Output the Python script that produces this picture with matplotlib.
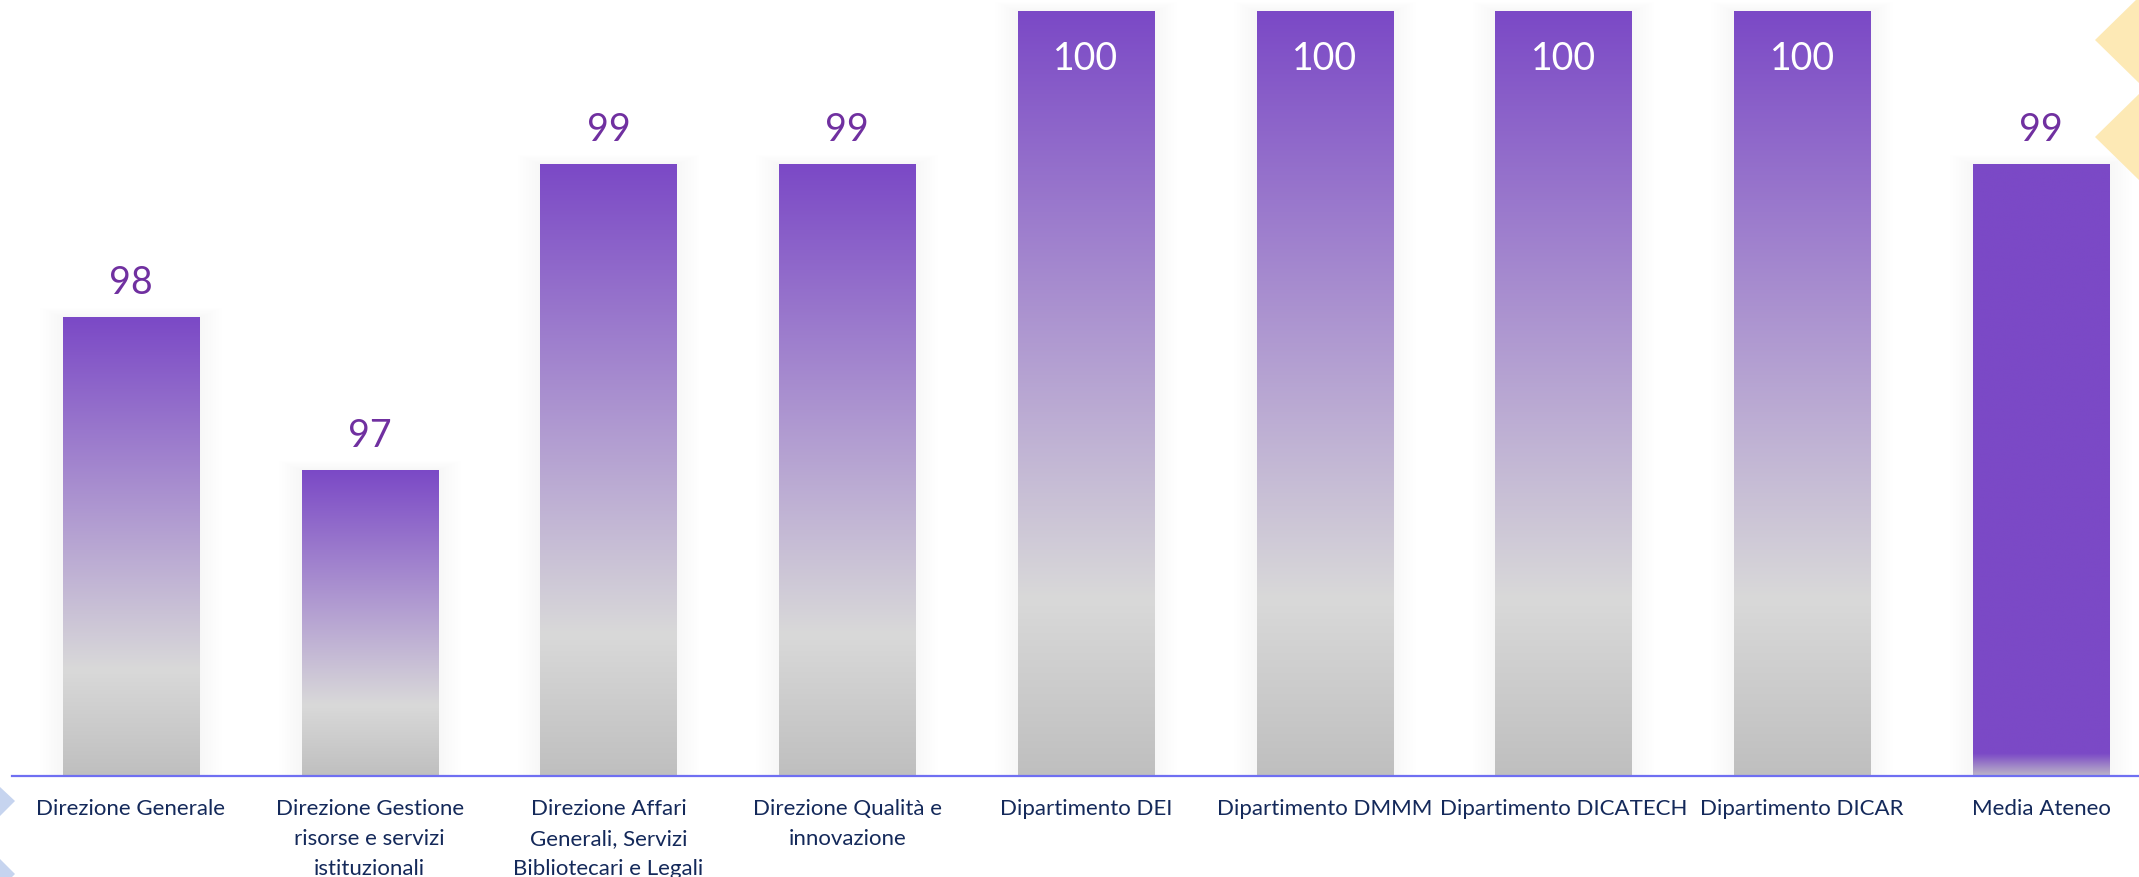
"""
Bar chart: share (%) per struttura, with gradient-filled bars.
"""

import numpy as np
import matplotlib
matplotlib.use("Agg")
import matplotlib.pyplot as plt
from matplotlib.colors import LinearSegmentedColormap
from matplotlib.patches import Polygon, Rectangle

categories = [
    "Direzione Generale",
    "Direzione Gestione\nrisorse e servizi\nistituzionali",
    "Direzione Affari\nGenerali, Servizi\nBibliotecari e Legali",
    "Direzione Qualità e\ninnovazione",
    "Dipartimento DEI",
    "Dipartimento DMMM",
    "Dipartimento DICATECH",
    "Dipartimento DICAR",
    "Media Ateneo",
]
values = [98, 97, 99, 99, 100, 100, 100, 100, 99]

W, H, DPI = 2139, 878, 100
PURPLE = "#7b49c6"
LABEL_PURPLE = "#7030a0"
NAVY = "#14295a"

plt.rcParams["font.family"] = ["Lato", "DejaVu Sans"]

fig = plt.figure(figsize=(W / DPI, H / DPI), dpi=DPI)
fig.patch.set_facecolor("white")

# decorative chevrons at the edges (figure pixel coords)
def chevron(pts, color):
    pts = [(x / W, 1 - y / H) for x, y in pts]
    fig.patches.append(Polygon(pts, closed=True, transform=fig.transFigure,
                               facecolor=color, edgecolor="none", zorder=0))

chevron([(2139, -2), (2095, 41), (2139, 84)], "#fde9b5")
chevron([(2139, 95), (2095, 138), (2139, 181)], "#fde9b5")
chevron([(0, 788), (15, 802), (0, 817)], "#c6d4ef")
chevron([(0, 860), (15, 875), (0, 890)], "#c6d4ef")

# axes placed so baseline (95) sits at y=777 px and 100 at y=12 px
y0 = 95
px_per_unit = 153.0
ytop = y0 + 777 / px_per_unit
step = 238.75
x_first = 131
ax = fig.add_axes([0, (H - 777) / H, 1, 777 / H])
ax.set_xlim(-x_first / step, (W - x_first) / step)
ax.set_ylim(y0, ytop)
ax.set_facecolor("none")
for s in ax.spines.values():
    s.set_visible(False)
ax.set_yticks([])

x = np.arange(len(categories))
bars = ax.bar(x, np.array(values) - y0, bottom=y0, width=0.57,
              facecolor="none", edgecolor="none", zorder=3)

grad_cmap = LinearSegmentedColormap.from_list(
    "g", [(0.0, PURPLE), (0.77, "#d9d9d9"), (1.0, "#bfbfbf")])
avg_cmap = LinearSegmentedColormap.from_list(
    "a", [(0.0, PURPLE), (0.965, PURPLE), (1.0, "#bab2c8")])
grad = np.linspace(0, 1, 256).reshape(-1, 1)

for i, b in enumerate(bars):
    bx, by = b.get_x(), b.get_y()
    bw, bh = b.get_width(), b.get_height()
    # soft glow behind the bar
    for k in range(1, 9):
        pad = k * 0.012
        ax.add_patch(Rectangle((bx - pad, by), bw + 2 * pad, bh + pad * 0.6,
                               facecolor="#000000", alpha=0.0025,
                               edgecolor="none", zorder=1))
    cmap = avg_cmap if i == len(bars) - 1 else grad_cmap
    im = ax.imshow(grad, cmap=cmap, aspect="auto", zorder=2,
                   extent=[bx, bx + bw, by, by + bh], origin="upper",
                   interpolation="bilinear")
    im.set_clip_path(b)

    if values[i] >= 100:
        ax.annotate(str(values[i]), (b.get_x() + bw / 2, by + bh),
                    xytext=(0, -34), textcoords="offset points",
                    ha="center", va="center", color="white", fontsize=27,
                    zorder=5)
    else:
        ax.annotate(str(values[i]), (b.get_x() + bw / 2, by + bh),
                    xytext=(0, 12), textcoords="offset points",
                    ha="center", va="bottom", color=LABEL_PURPLE,
                    fontsize=27, zorder=5)

# horizontal baseline
ax.axhline(y0, xmin=12 / W, xmax=1, color="#6f6ff2", lw=1.6, zorder=4,
           clip_on=False)

ax.set_xticks(x)
ax.set_xticklabels(categories, fontsize=16, color=NAVY, linespacing=1.62)
ax.tick_params(axis="x", length=0, pad=16)

fig.savefig("out.png", dpi=DPI, facecolor="white")
